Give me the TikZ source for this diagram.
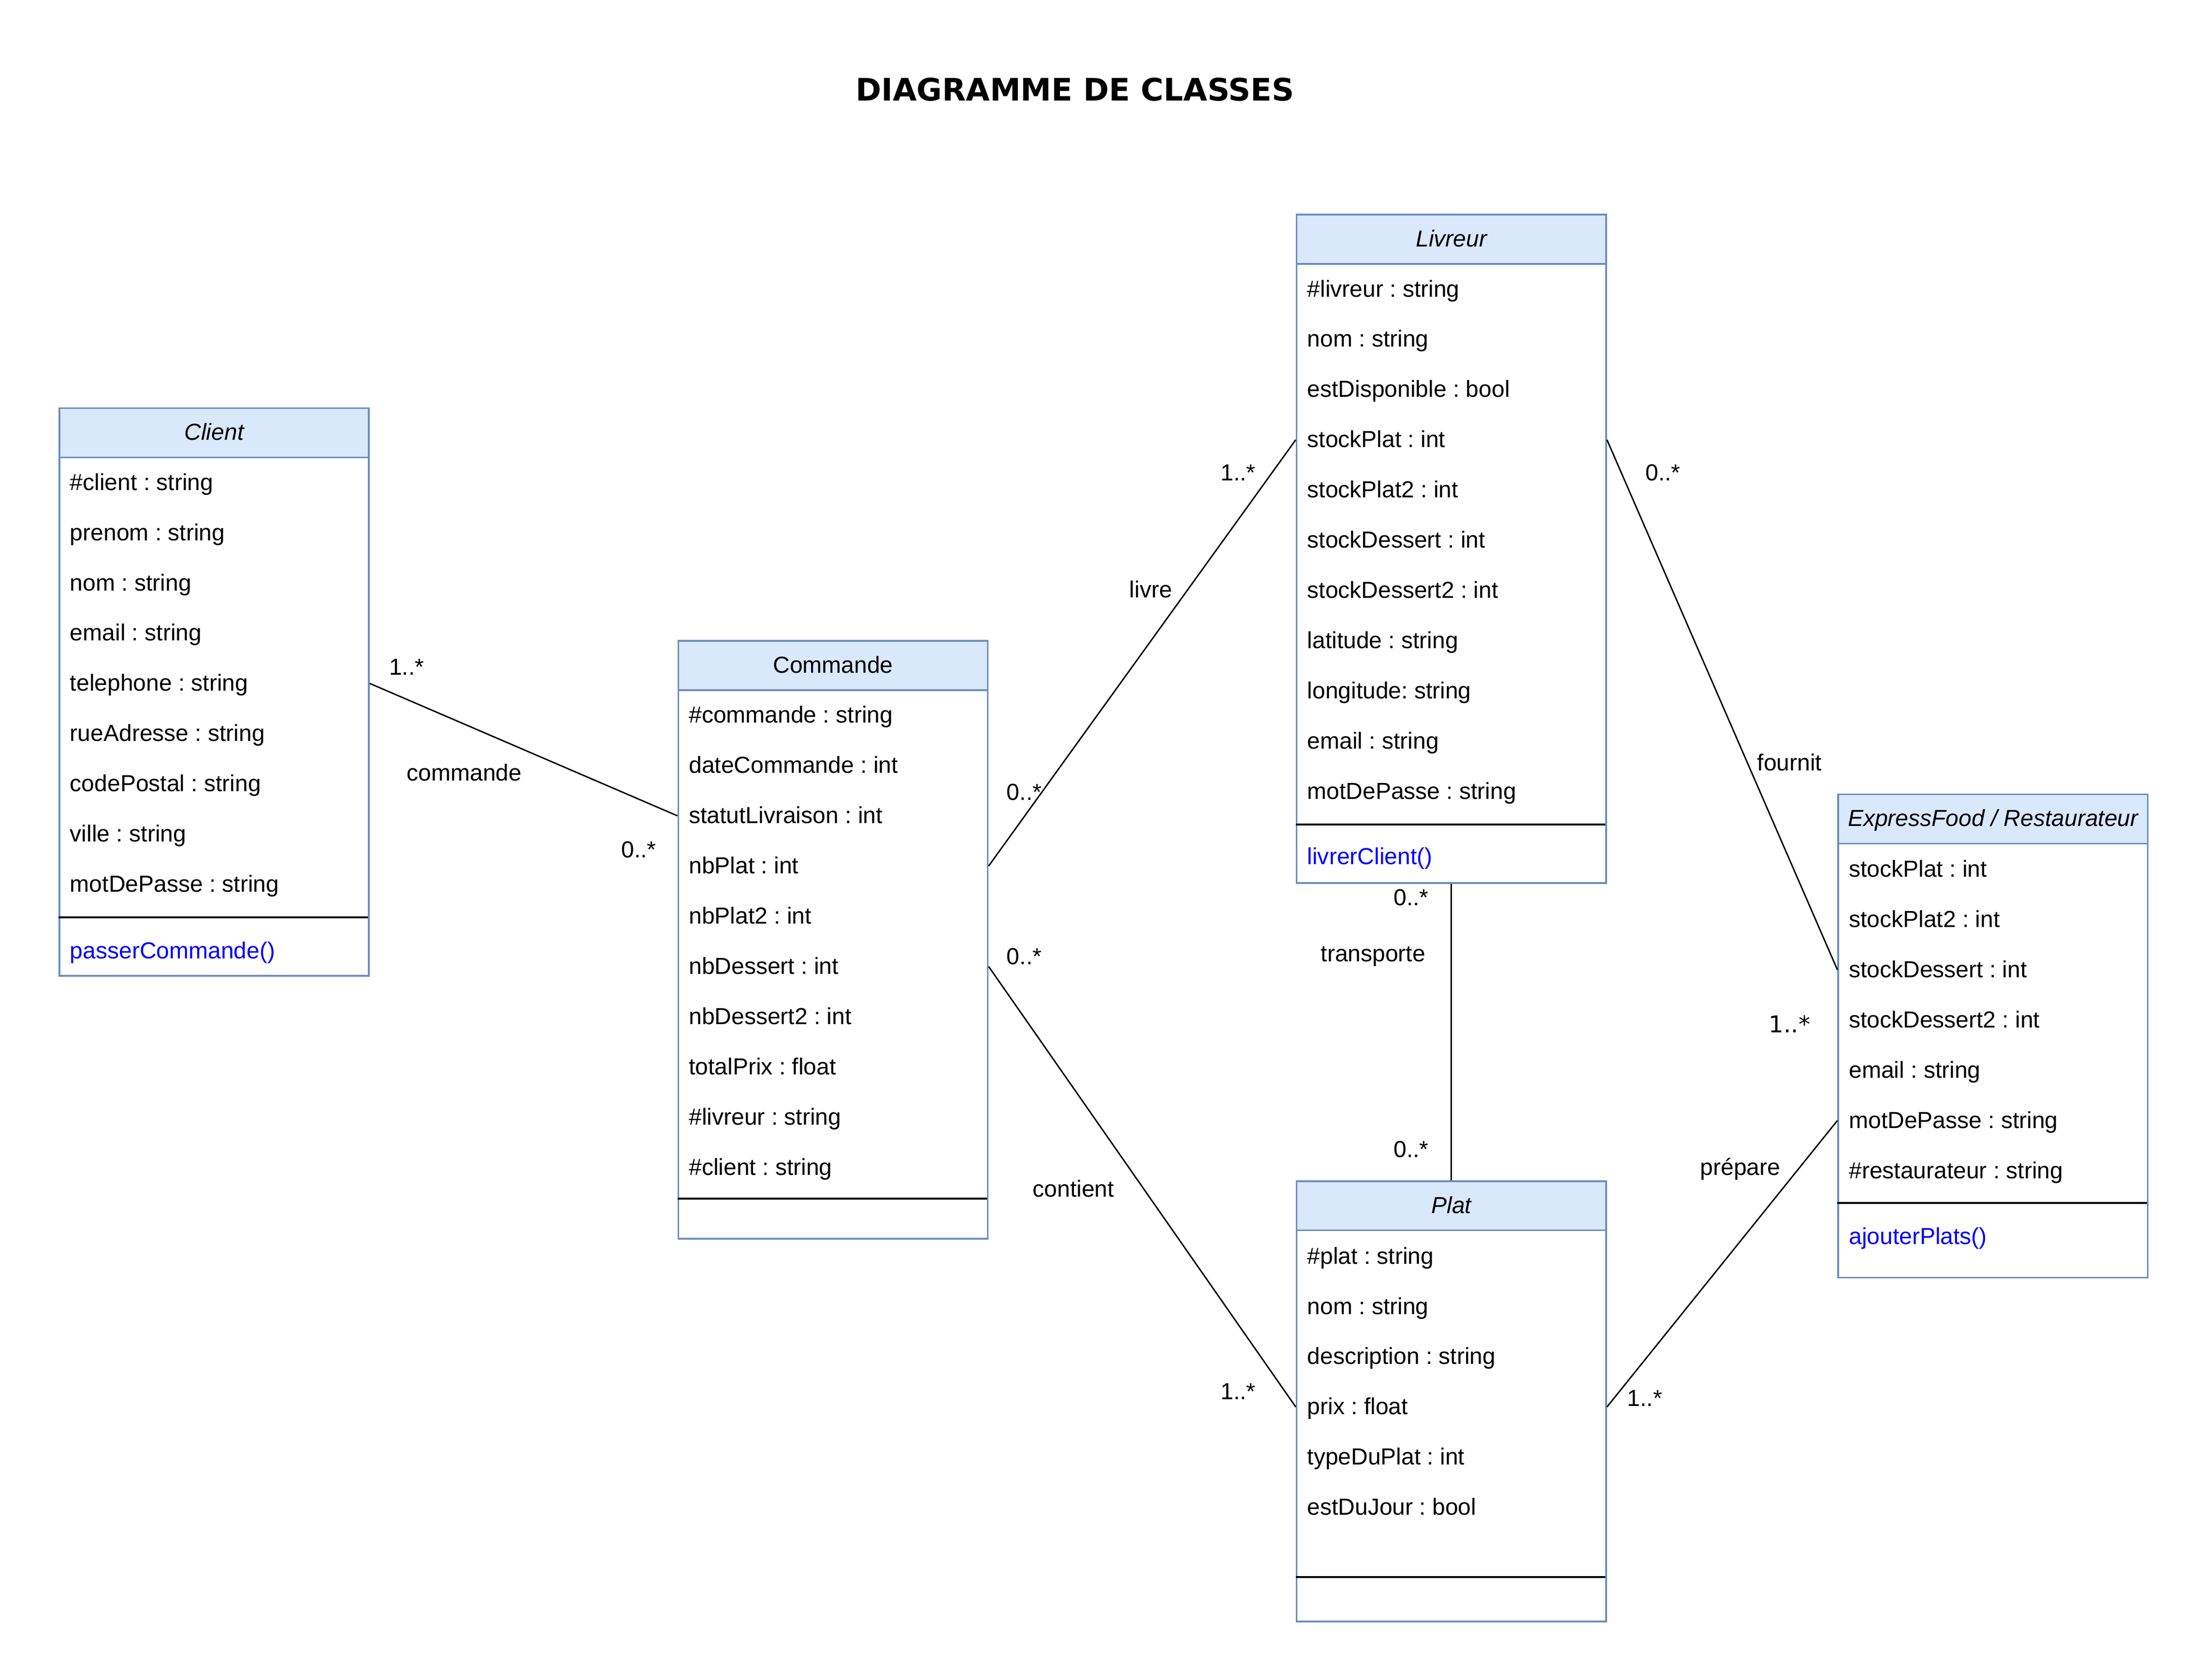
\documentclass[tikz,border=0pt]{standalone}
\usepackage{fontspec}
\setmainfont{Liberation Sans}
\newfontfamily\dejavu{DejaVu Sans}
\usetikzlibrary{calc}
\definecolor{hdrfill}{HTML}{DAE8FC}
\definecolor{hdrline}{HTML}{6C8EBF}
\definecolor{methblue}{HTML}{0000FF}
\frenchspacing
\begin{document}
\begin{tikzpicture}[x=1pt,y=-1pt,
  every node/.style={font=\fontsize{16.5}{19}\selectfont},
  classbox/.style={draw=hdrline, line width=1.2pt, anchor=north west, inner sep=0pt, minimum width=220pt},
  headbox/.style={draw=hdrline, fill=hdrfill, line width=1.2pt, anchor=north west, inner sep=0pt,
    minimum width=220pt, minimum height=35pt, text height=14.8pt, text depth=4.1pt},
  attr/.style={anchor=west, inner sep=0pt, text height=15pt, text depth=4.1pt},
  meth/.style={attr, text=methblue},
  sepline/.style={line width=1.3pt, black},
  assoc/.style={line width=1pt, black},
  lbl/.style={inner sep=0pt}]
\useasboundingbox (0,0) rectangle (1568,1194);
\fill[white] (0,0) rectangle (1568,1194);

% title
\node[font={\dejavu\bfseries\fontsize{22}{26}\selectfont}] (title) at (764,63.5) {DIAGRAMME DE CLASSES};

% Client
\node[classbox, minimum height=403.5pt] (client) at (41.6,289.5) {};
\node[headbox] (clientH) at (41.6,289.5) {\itshape Client};
\foreach \t [count=\i] in {\#client : string, prenom : string, nom : string, email : string,
  telephone : string, rueAdresse : string, codePostal : string, ville : string, motDePasse : string}
  \node[attr] (cl-\i) at (49.6,{343+(\i-1)*35.7}) {\t};
\draw[sepline] (41.6,652) -- (261.6,652);
\node[meth] (cl-m) at (49.6,676) {passerCommande()};

% Commande
\node[classbox, minimum height=425pt] (cmd) at (481.5,455) {};
\node[headbox] (cmdH) at (481.5,455) {Commande};
\foreach \t [count=\i] in {\#commande : string, dateCommande : int, statutLivraison : int, nbPlat : int,
  nbPlat2 : int, nbDessert : int, nbDessert2 : int, totalPrix : float, \#livreur : string, \#client : string}
  \node[attr] (cm-\i) at (489.5,{508.5+(\i-1)*35.7}) {\t};
\draw[sepline] (481.5,852) -- (701.5,852);

% Livreur
\node[classbox, minimum height=475pt] (liv) at (921,152) {};
\node[headbox] (livH) at (921,152) {\itshape Livreur};
\foreach \t [count=\i] in {\#livreur : string, nom : string, estDisponible : bool, stockPlat : int,
  stockPlat2 : int, stockDessert : int, stockDessert2 : int, latitude : string, longitude: string,
  email : string, motDePasse : string}
  \node[attr] (lv-\i) at (929,{205.5+(\i-1)*35.7}) {\t};
\draw[sepline] (921,586) -- (1141,586);
\node[meth] (lv-m) at (929,609) {livrerClient()};

% Plat
\node[classbox, minimum height=313pt] (plat) at (921,839) {};
\node[headbox] (platH) at (921,839) {\itshape Plat};
\foreach \t [count=\i] in {\#plat : string, nom : string, description : string, prix : float,
  typeDuPlat : int, estDuJour : bool}
  \node[attr] (pl-\i) at (929,{893+(\i-1)*35.7}) {\t};
\draw[sepline] (921,1121) -- (1141,1121);

% ExpressFood / Restaurateur
\node[classbox, minimum height=343.5pt] (exp) at (1306,564) {};
\node[headbox] (expH) at (1306,564) {\itshape ExpressFood / Restaurateur};
\foreach \t [count=\i] in {stockPlat : int, stockPlat2 : int, stockDessert : int, stockDessert2 : int,
  email : string, motDePasse : string, \#restaurateur : string}
  \node[attr] (ex-\i) at (1314,{618+(\i-1)*35.7}) {\t};
\draw[sepline] (1306,855) -- (1526,855);
\node[meth] (ex-m) at (1314,879) {ajouterPlats()};

% associations
\draw[assoc] (client.east |- cl-5) -- (cmd.west |- cm-3);
\draw[assoc] (cmd.east |- cm-4) -- (liv.west |- lv-4);
\draw[assoc] (cmd.east |- cm-6) -- (plat.west |- pl-4);
\draw[assoc] (liv.south) -- (platH.north);
\draw[assoc] (liv.east |- lv-4) -- (exp.west |- ex-3);
\draw[assoc] (plat.east |- pl-4) -- (exp.west |- ex-6);

% labels
\node[lbl] (a1) at (289,474) {1..*};
\node[lbl] (a2) at (330,549) {commande};
\node[lbl] (a3) at (454,604) {0..*};
\node[lbl] (b1) at (880,336) {1..*};
\node[lbl] (b2) at (818,419) {livre};
\node[lbl] (b3) at (728,563) {0..*};
\node[lbl] (c1) at (728,680) {0..*};
\node[lbl] (c2) at (763,845) {contient};
\node[lbl] (c3) at (880,989) {1..*};
\node[lbl] (d1) at (1003,638) {0..*};
\node[lbl] (d2) at (976,680) {transporte};
\node[lbl] (d3) at (1003,817) {0..*};
\node[lbl] (e1) at (1182,336) {0..*};
\node[lbl] (e2) at (1272,542) {fournit};
\node[lbl, font={\dejavu\fontsize{16.5}{19}\selectfont}] (e3) at (1272,728) {1..*};
\node[lbl] (f1) at (1169,994) {1..*};
\node[lbl] (f2) at (1237,831) {prépare};
\end{tikzpicture}
\end{document}
